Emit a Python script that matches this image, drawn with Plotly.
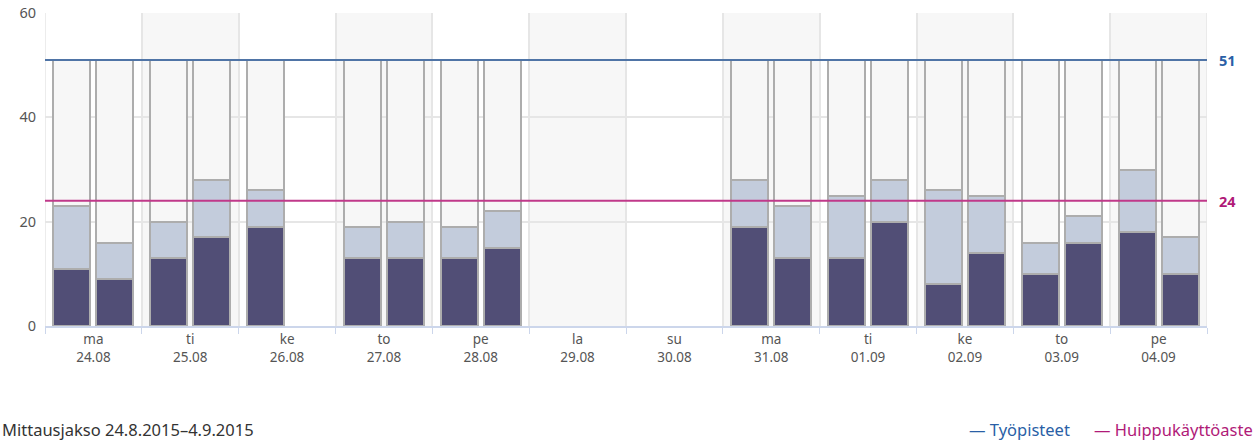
import plotly.graph_objects as go

days = ["ma", "ti", "ke", "to", "pe", "la", "su", "ma", "ti", "ke", "to", "pe"]
dates = ["24.08", "25.08", "26.08", "27.08", "28.08", "29.08", "30.08",
         "31.08", "01.09", "02.09", "03.09", "04.09"]
# first bar of each day: dark part and total (dark + light)
am_dark = [11, 13, 19, 13, 13, None, None, 19, 13, 8, 10, 18]
am_total = [23, 20, 26, 19, 19, None, None, 28, 25, 26, 16, 30]
# second bar of each day
pm_dark = [9, 17, None, 13, 15, None, None, 13, 20, 14, 16, 10]
pm_total = [16, 28, None, 20, 22, None, None, 23, 28, 25, 21, 17]
capacity = 51   # Työpisteet
peak = 24       # Huippukäyttöaste

DARK = "#514e76"
LIGHT = "#c3ccdc"
EMPTY = "#f7f7f7"
EDGE = "#adadad"
BLUE = "#4f74a6"
MAGENTA = "#c0398a"
BLUE_T = "#2a5fa6"
MAG_T = "#b01a78"

n = len(days)
OFF = 0.222
W = 0.382

xs, dark, light, rest = [], [], [], []
for i in range(n):
    for off, d, t in ((-OFF, am_dark[i], am_total[i]), (OFF, pm_dark[i], pm_total[i])):
        if d is None:
            continue
        xs.append(i + off)
        dark.append(d)
        light.append(t - d)
        rest.append(capacity - t)

fig = go.Figure()
for vals, col, nm in ((dark, DARK, "a"), (light, LIGHT, "b"), (rest, EMPTY, "c")):
    fig.add_trace(go.Bar(x=xs, y=vals, width=W, marker=dict(color=col, line=dict(color=EDGE, width=2)),
                         showlegend=False, name=nm))

fig.add_trace(go.Scatter(x=[-0.5, n - 0.5], y=[capacity, capacity], mode="lines",
                         line=dict(color=BLUE, width=2), showlegend=False, name="Työpisteet"))
fig.add_trace(go.Scatter(x=[-0.5, n - 0.5], y=[peak, peak], mode="lines",
                         line=dict(color=MAGENTA, width=2), showlegend=False, name="Huippukäyttöaste"))

shapes = []
for i in range(n):
    if i % 2 == 1:
        shapes.append(dict(type="rect", xref="x", yref="y", x0=i - 0.5, x1=i + 0.5, y0=0, y1=60,
                           fillcolor="#f7f7f7", line=dict(width=0), layer="below"))
for xv in (-0.5, n - 0.5):
    shapes.append(dict(type="line", xref="x", yref="y", x0=xv, x1=xv, y0=0, y1=60,
                       line=dict(color="#e6e6e6", width=1.5), layer="below"))

fig.update_layout(
    width=1260, height=441,
    margin=dict(l=45, r=53, t=13, b=115, autoexpand=False),
    plot_bgcolor="white", paper_bgcolor="white",
    barmode="stack", bargap=0,
    font=dict(family="Noto Sans, Open Sans, sans-serif", size=13, color="#555"),
    shapes=shapes,
    xaxis=dict(range=[-0.5, n - 0.5], tickmode="array", tickvals=list(range(n)),
               ticktext=[f"{d}<br>{t}" for d, t in zip(days, dates)],
               ticks="", showgrid=False, zeroline=False, automargin=False,
               showline=True, linecolor="#ccd6eb", linewidth=1.5,
               tickfont=dict(size=13.5, color="#555"),
               minor=dict(tickmode="linear", tick0=-0.5, dtick=1, ticks="outside", ticklen=6,
                          tickcolor="#ccd6eb", showgrid=True, gridcolor="#e6e6e6", gridwidth=1.5)),
    yaxis=dict(range=[0, 60], tickvals=[0, 20, 40, 60], showgrid=True, gridcolor="#e6e6e6",
               gridwidth=1.5, zeroline=False, ticks="", ticklabelstandoff=8, automargin=False,
               tickfont=dict(size=14.5, color="#555")),
    annotations=[
        dict(x=1, xref="paper", xshift=10, y=capacity, yref="y", text=f"<b>{capacity}</b>",
             showarrow=False, xanchor="left", font=dict(size=14.5, color=BLUE_T)),
        dict(x=1, xref="paper", xshift=10, y=peak, yref="y", text=f"<b>{peak}</b>",
             showarrow=False, xanchor="left", font=dict(size=14.5, color=MAG_T)),
        dict(x=0, xref="paper", xshift=-45, y=0, yref="paper", yshift=-103,
             text="Mittausjakso 24.8.2015–4.9.2015", showarrow=False, xanchor="left",
             yanchor="middle", font=dict(size=16.5, color="#333")),
        dict(x=1, xref="paper", xshift=-135, y=0, yref="paper", yshift=-103,
             text="— Työpisteet", showarrow=False, xanchor="right",
             yanchor="middle", font=dict(size=16.5, color=BLUE_T)),
        dict(x=1, xref="paper", xshift=48, y=0, yref="paper", yshift=-103,
             text="— Huippukäyttöaste", showarrow=False, xanchor="right",
             yanchor="middle", font=dict(size=16.5, color=MAG_T)),
    ],
)

fig.write_html("out.html", config={"displayModeBar": False},
               post_script="document.body.style.margin='0';")
